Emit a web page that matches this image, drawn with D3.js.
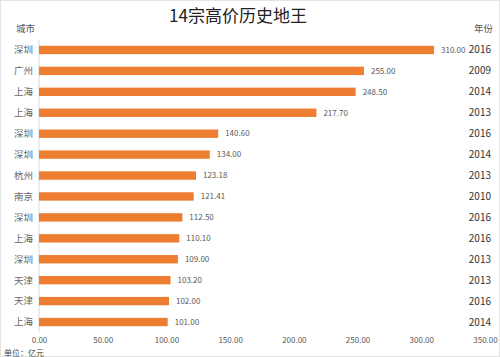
<!DOCTYPE html>
<html><head><meta charset="utf-8">
<script src="https://cdn.jsdelivr.net/npm/d3@7"></script>
<style>body{margin:0;background:#fff}svg{display:block;font-family:"Noto Sans CJK SC","Noto Sans",sans-serif}</style>
</head><body><svg id="c" width="500" height="357"></svg>
<script>
const cities = ["深圳","广州","上海","上海","深圳","深圳","杭州","南京","深圳","上海","深圳","天津","天津","上海"];
const values = [310,255,248.5,217.7,140.6,134,123.18,121.41,112.5,110.1,109,103.2,102,101];
const years = ["2016","2009","2014","2013","2016","2014","2013","2010","2016","2016","2013","2013","2016","2014"];
const xTicks = [0,50,100,150,200,250,300,350];

const svg = d3.select("#c");
svg.append("rect").attr("x",0.5).attr("y",0.5).attr("width",499).attr("height",356)
  .attr("fill","#fff").attr("stroke","#e4e4e4");

const x = d3.scaleLinear().domain([0,350]).range([39,485]);
const idx = d3.range(cities.length);
const y = d3.scaleBand().domain(idx).range([39.5,332.5]).paddingInner(0.6).paddingOuter(0.3);

svg.append("text").attr("x",238).attr("y",22).attr("text-anchor","middle")
  .attr("font-size",17).attr("fill","#222").text("14宗高价历史地王");
svg.append("text").attr("x",16).attr("y",32).attr("font-size",9.5).attr("fill","#555").text("城市");
svg.append("text").attr("x",474).attr("y",32).attr("font-size",9.5).attr("fill","#555").text("年份");

svg.append("line").attr("x1",x(0)).attr("x2",x(0)).attr("y1",40).attr("y2",332)
  .attr("stroke","#d9d9d9");

svg.selectAll("rect.bar").data(idx).join("rect").attr("class","bar")
  .attr("x",x(0)).attr("y",i=>y(i)).attr("height",y.bandwidth())
  .attr("width",i=>x(values[i])-x(0)).attr("fill","#ED7D31");

svg.selectAll("text.val").data(idx).join("text").attr("class","val")
  .attr("x",i=>x(values[i])+7).attr("y",i=>y(i)+y.bandwidth()/2).attr("dy","0.35em")
  .attr("font-size",8).attr("fill","#595959").text(i=>values[i].toFixed(2));

svg.selectAll("text.city").data(idx).join("text").attr("class","city")
  .attr("x",33).attr("y",i=>y(i)+y.bandwidth()/2).attr("dy","0.35em").attr("text-anchor","end")
  .attr("font-size",9.5).attr("fill","#666").text(i=>cities[i]);

svg.selectAll("text.year").data(idx).join("text").attr("class","year")
  .attr("x",491).attr("y",i=>y(i)+y.bandwidth()/2).attr("dy","0.35em").attr("text-anchor","end")
  .attr("font-size",10).attr("fill","#333").text(i=>years[i]);

const ax = svg.append("g").attr("transform","translate(0,335)")
  .call(d3.axisBottom(x).tickValues(xTicks).tickFormat(d=>d.toFixed(2)).tickSize(0));
ax.select(".domain").remove();
ax.selectAll("text").attr("font-size",8).attr("fill","#595959").attr("y",2)
  .attr("font-family",'"Noto Sans CJK SC","Noto Sans",sans-serif');

svg.append("text").attr("x",4).attr("y",355.5).attr("font-size",8).attr("fill","#444").text("单位：亿元");
</script></body></html>
